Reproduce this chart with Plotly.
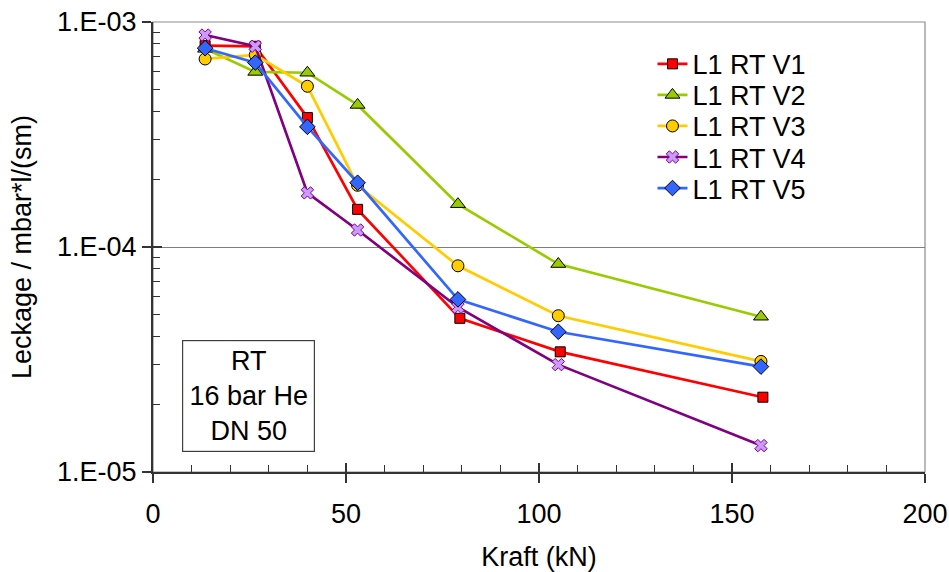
import plotly.graph_objects as go

# Force (kN) at which each leak rate was measured
kraft_v1 = [13.5, 26.5, 40, 53, 79.5, 105.5, 158]
kraft = [13.5, 26.5, 40, 53, 79, 105, 157.5]

# Leak rates in mbar*l/(s*m)
v1 = [7.85e-4, 7.8e-4, 3.76e-4, 1.47e-4, 4.82e-5, 3.42e-5, 2.15e-5]
v2 = [7.6e-4, 6.0e-4, 5.95e-4, 4.28e-4, 1.55e-4, 8.4e-5, 4.9e-5]
v3 = [6.85e-4, 7.15e-4, 5.18e-4, 1.88e-4, 8.25e-5, 4.95e-5, 3.1e-5]
v4 = [8.75e-4, 7.8e-4, 1.74e-4, 1.19e-4, 5.4e-5, 3.0e-5, 1.31e-5]
v5 = [7.65e-4, 6.6e-4, 3.42e-4, 1.93e-4, 5.85e-5, 4.2e-5, 2.94e-5]

names = ["L1 RT V1", "L1 RT V2", "L1 RT V3", "L1 RT V4", "L1 RT V5"]
x_ticks = [0, 50, 100, 150, 200]
y_ticks = [1e-5, 1e-4, 1e-3]
y_ticktext = ["1.E-05", "1.E-04", "1.E-03"]

FONT = "Liberation Sans, Arial, sans-serif"
FS = 27
AXIS = "#333333"

series = [
    (kraft_v1, v1, "#FF0000", "square", 10, "#000000", "#FF0000"),
    (kraft, v2, "#99CC00", "triangle-up", 13, "#000000", "#99CC00"),
    (kraft, v3, "#FFCC00", "circle", 12, "#000000", "#FFCC00"),
    (kraft, v4, "#800080", "x", 11, "#800080", "#CC99FF"),
    (kraft, v5, "#3366FF", "diamond", 12, "#000000", "#3366FF"),
]

fig = go.Figure()
legend_ids = ["legend", "legend2", "legend3", "legend4", "legend5"]
for (xs, ys, col, sym, size, edge, fill), name, lg in zip(series, names,
                                                        legend_ids):
    fig.add_trace(go.Scatter(
        x=xs, y=ys, name=name, mode="lines+markers", legend=lg,
        line=dict(color=col, width=2.7),
        marker=dict(symbol=sym, size=size, color=fill,
                    line=dict(color=edge, width=1)),
    ))

# invisible trace carrying the overlay axes (inner half of the major ticks)
fig.add_trace(go.Scatter(x=kraft[:1], y=v1[:1], xaxis="x2", yaxis="y2",
                         mode="lines", opacity=0, showlegend=False,
                         hoverinfo="skip"))

minor_x = [v for v in range(10, 200, 10) if v % 50]
minor_y = [m * 10 ** e for e in (-5, -4) for m in range(2, 10)]

# one legend box per series, stacked with a fixed row pitch
legend_rows = [0.906, 0.837, 0.768, 0.699, 0.630]
legends = {}
for lg, yc in zip(legend_ids, legend_rows):
    legends[lg] = dict(x=0.647, y=yc, xanchor="left", yanchor="middle",
                       bgcolor="rgba(0,0,0,0)", borderwidth=0,
                       font=dict(size=FS, family=FONT))

fig.update_layout(
    width=949, height=572,
    margin=dict(l=153, r=24, t=22, b=100, autoexpand=False),
    paper_bgcolor="white", plot_bgcolor="white",
    font=dict(family=FONT, size=FS, color="black"),
    showlegend=True,
    xaxis=dict(
        range=[0, 200], tickvals=x_ticks, ticks="outside", ticklen=9,
        tickwidth=1.5, tickcolor=AXIS, showline=True, linecolor=AXIS,
        linewidth=2, showgrid=False, zeroline=False, automargin=False,
        tickfont=dict(size=FS), ticklabelstandoff=8,
        title=dict(text="Kraft (kN)", font=dict(size=FS), standoff=26),
        minor=dict(tickvals=minor_x, ticks="inside", ticklen=7,
                   tickcolor=AXIS, tickwidth=1.2, showgrid=False),
    ),
    yaxis=dict(
        type="log", range=[-5, -3], tickvals=y_ticks, ticktext=y_ticktext,
        ticks="outside", ticklen=9, tickwidth=1.5, tickcolor=AXIS,
        showline=True, linecolor=AXIS, linewidth=2, automargin=False,
        showgrid=True, gridcolor="#7F7F7F", gridwidth=1.2, zeroline=False,
        tickfont=dict(size=FS),
        title=dict(text="Leckage / mbar*l/(sm)", font=dict(size=FS),
                   standoff=18),
        minor=dict(tickvals=minor_y, ticks="inside", ticklen=7,
                   tickcolor=AXIS, tickwidth=1.2, showgrid=False),
    ),
    xaxis2=dict(overlaying="x", anchor="y", range=[0, 200], tickvals=x_ticks,
                ticks="inside", ticklen=9, tickwidth=1.5, tickcolor=AXIS,
                showticklabels=False, showgrid=False, showline=False,
                zeroline=False, automargin=False),
    yaxis2=dict(overlaying="y", anchor="x", type="log", range=[-5, -3],
                tickvals=y_ticks, ticks="inside", ticklen=9, tickwidth=1.5,
                tickcolor=AXIS, showticklabels=False, showgrid=False,
                showline=False, zeroline=False, side="left",
                automargin=False),
    shapes=[dict(type="rect", xref="paper", yref="paper", x0=0, x1=1,
                 y0=0, y1=1, line=dict(color="#8C8C8C", width=1.2),
                 layer="below")],
    annotations=[dict(
        text="RT<br>16 bar He<br>DN 50", xref="paper", yref="paper",
        x=0.1237, y=0.169, xanchor="center", yanchor="middle",
        showarrow=False, font=dict(size=FS, color="black"),
        bordercolor="#404040", borderwidth=1.2, bgcolor="white",
        width=129, height=108, align="center",
    )],
    **legends,
)

fig.write_html("out.html")
